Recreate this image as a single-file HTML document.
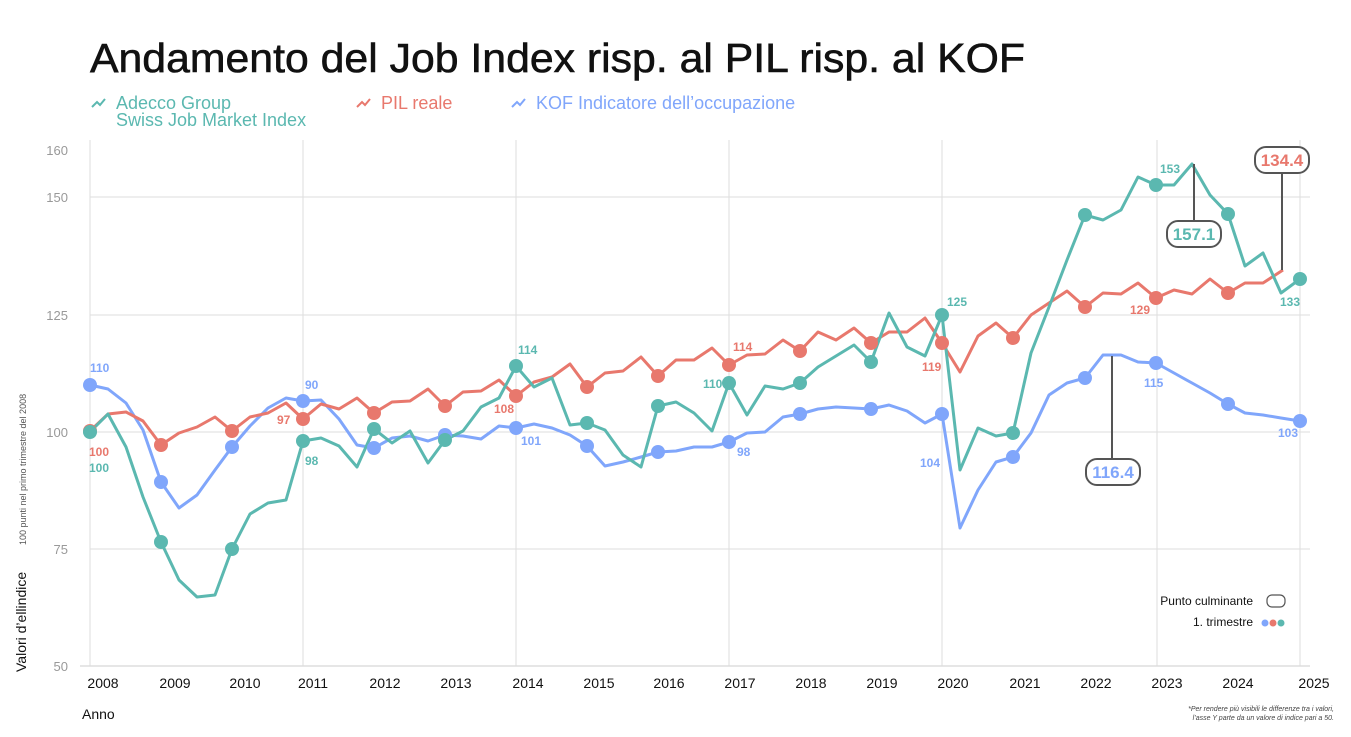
<!DOCTYPE html>
<html><head><meta charset="utf-8"><style>
body{margin:0;background:#fff;}
svg{display:block;font-family:"Liberation Sans",sans-serif;}
</style></head><body>
<svg width="1351" height="737" viewBox="0 0 1351 737">
<text x="90" y="72" font-size="41" fill="#111" stroke="#111" stroke-width="0.6" textLength="935" lengthAdjust="spacingAndGlyphs">Andamento del Job Index risp. al PIL risp. al KOF</text>
<g font-size="18">
<path d="M92 107l5-5 3 3 5-6" stroke="#5bb8b0" stroke-width="2" fill="none"/>
<text x="116" y="109" fill="#5bb8b0">Adecco Group</text>
<text x="116" y="126" fill="#5bb8b0">Swiss Job Market Index</text>
<path d="M357 107l5-5 3 3 5-6" stroke="#e8786d" stroke-width="2" fill="none"/>
<text x="381" y="109" fill="#e8786d">PIL reale</text>
<path d="M512 107l5-5 3 3 5-6" stroke="#80a6fb" stroke-width="2" fill="none"/>
<text x="536" y="109" fill="#80a6fb">KOF Indicatore dell’occupazione</text>
</g>
<g stroke="#ddd" stroke-width="1">
<line x1="90" y1="197" x2="1310" y2="197"/><line x1="90" y1="315" x2="1310" y2="315"/>
<line x1="90" y1="432" x2="1310" y2="432"/><line x1="90" y1="549" x2="1310" y2="549"/>
<line x1="80" y1="666" x2="1310" y2="666" stroke="#ccc"/>
<line x1="90" y1="140" x2="90" y2="666"/><line x1="303" y1="140" x2="303" y2="666"/>
<line x1="516" y1="140" x2="516" y2="666"/><line x1="729" y1="140" x2="729" y2="666"/>
<line x1="942" y1="140" x2="942" y2="666"/><line x1="1157" y1="140" x2="1157" y2="666"/>
<line x1="1300" y1="140" x2="1300" y2="666"/>
</g>
<g font-size="13" fill="#999" text-anchor="end">
<text x="68" y="155">160</text><text x="68" y="202">150</text><text x="68" y="320">125</text>
<text x="68" y="437">100</text><text x="68" y="554">75</text><text x="68" y="671">50</text>
</g>
<text transform="translate(26,672) rotate(-90)" font-size="14" fill="#111">Valori d’ellindice</text>
<text transform="translate(26,545) rotate(-90)" font-size="9" fill="#555">100 punti nel primo trimestre del 2008</text>
<g font-size="14" fill="#111" text-anchor="middle">
<text x="103" y="688">2008</text><text x="175" y="688">2009</text><text x="245" y="688">2010</text><text x="313" y="688">2011</text><text x="385" y="688">2012</text><text x="456" y="688">2013</text><text x="528" y="688">2014</text><text x="599" y="688">2015</text><text x="669" y="688">2016</text><text x="740" y="688">2017</text><text x="811" y="688">2018</text><text x="882" y="688">2019</text><text x="953" y="688">2020</text><text x="1025" y="688">2021</text><text x="1096" y="688">2022</text><text x="1167" y="688">2023</text><text x="1238" y="688">2024</text><text x="1314" y="688">2025</text>
</g>
<text x="82" y="719" font-size="14" fill="#111">Anno</text>
<text x="1334" y="711" font-size="7" fill="#444" text-anchor="end" font-style="italic">*Per rendere più visibili le differenze tra i valori,</text>
<text x="1334" y="720" font-size="7" fill="#444" text-anchor="end" font-style="italic">l’asse Y parte da un valore di indice pari a 50.</text>
<g fill="none" stroke-width="3" stroke-linejoin="round">
<polyline stroke="#80a6fb" points="90,385 108,389 126,403 143,430 161,482 179,508 197,495 215,470 232,447 250,426 268,408 286,398 303,401 321,400 339,419 357,445 374,448 392,438 410,436 428,441 445,435 463,436 481,439 499,426 516,428 534,424 552,428 570,435 587,446 605,466 623,462 641,457 658,452 676,451 694,447 712,447 729,442 747,433 765,432 783,417 800,414 818,409 836,407 854,408 871,409 889,405 907,411 925,423 942,414 960,528 978,490 996,462 1013,457 1031,433 1049,395 1067,383 1085,378 1103,355 1121,355 1138,362 1156,363 1174,373 1192,383 1210,393 1228,404 1245,413 1263,415 1281,418 1300,421"/>
<polyline stroke="#e8786d" points="90,431 108,414 126,412 143,421 161,445 179,433 197,427 215,417 232,431 250,417 268,413 286,403 303,419 321,404 339,409 357,398 374,413 392,402 410,401 428,389 445,406 463,392 481,391 499,380 516,396 534,382 552,377 570,364 587,387 605,373 623,371 641,357 658,376 676,360 694,360 712,348 729,365 747,355 765,354 783,340 800,351 818,332 836,340 854,328 871,343 889,332 907,332 925,318 942,343 960,372 978,336 996,323 1013,338 1031,315 1049,303 1067,291 1085,307 1103,293 1121,294 1138,283 1156,298 1174,290 1192,294 1210,279 1228,293 1245,283 1263,283 1283,270"/>
<polyline stroke="#5bb8b0" points="90,432 108,414 126,447 143,497 161,542 179,580 197,597 215,595 232,549 250,514 268,503 286,500 303,441 321,438 339,446 357,467 374,429 392,443 410,431 428,463 445,440 463,431 481,407 499,398 516,366 534,387 552,378 570,425 587,423 605,430 623,455 641,467 658,406 676,402 694,413 712,431 729,383 747,415 765,386 783,389 800,383 818,367 836,356 854,345 871,362 889,313 907,347 925,356 942,315 960,470 978,428 996,436 1013,433 1031,353 1049,307 1067,260 1085,215 1103,220 1121,210 1138,177 1156,185 1174,185 1192,164 1210,195 1228,214 1245,266 1263,253 1281,293 1300,279"/>
</g>
<g fill="#80a6fb">
<circle cx="90" cy="385" r="7"/><circle cx="161" cy="482" r="7"/><circle cx="232" cy="447" r="7"/><circle cx="303" cy="401" r="7"/><circle cx="374" cy="448" r="7"/><circle cx="445" cy="435" r="7"/><circle cx="516" cy="428" r="7"/><circle cx="587" cy="446" r="7"/><circle cx="658" cy="452" r="7"/><circle cx="729" cy="442" r="7"/><circle cx="800" cy="414" r="7"/><circle cx="871" cy="409" r="7"/><circle cx="942" cy="414" r="7"/><circle cx="1013" cy="457" r="7"/><circle cx="1085" cy="378" r="7"/><circle cx="1156" cy="363" r="7"/><circle cx="1228" cy="404" r="7"/><circle cx="1300" cy="421" r="7"/>
</g>
<g fill="#e8786d">
<circle cx="90" cy="431" r="7"/><circle cx="161" cy="445" r="7"/><circle cx="232" cy="431" r="7"/><circle cx="303" cy="419" r="7"/><circle cx="374" cy="413" r="7"/><circle cx="445" cy="406" r="7"/><circle cx="516" cy="396" r="7"/><circle cx="587" cy="387" r="7"/><circle cx="658" cy="376" r="7"/><circle cx="729" cy="365" r="7"/><circle cx="800" cy="351" r="7"/><circle cx="871" cy="343" r="7"/><circle cx="942" cy="343" r="7"/><circle cx="1013" cy="338" r="7"/><circle cx="1085" cy="307" r="7"/><circle cx="1156" cy="298" r="7"/><circle cx="1228" cy="293" r="7"/>
</g>
<g fill="#5bb8b0">
<circle cx="90" cy="432" r="7"/><circle cx="161" cy="542" r="7"/><circle cx="232" cy="549" r="7"/><circle cx="303" cy="441" r="7"/><circle cx="374" cy="429" r="7"/><circle cx="445" cy="440" r="7"/><circle cx="516" cy="366" r="7"/><circle cx="587" cy="423" r="7"/><circle cx="658" cy="406" r="7"/><circle cx="729" cy="383" r="7"/><circle cx="800" cy="383" r="7"/><circle cx="871" cy="362" r="7"/><circle cx="942" cy="315" r="7"/><circle cx="1013" cy="433" r="7"/><circle cx="1085" cy="215" r="7"/><circle cx="1156" cy="185" r="7"/><circle cx="1228" cy="214" r="7"/><circle cx="1300" cy="279" r="7"/>
</g>
<g font-size="12" font-weight="bold">
<g fill="#80a6fb"><text x="90" y="372">110</text><text x="305" y="389">90</text><text x="521" y="445">101</text><text x="737" y="456">98</text><text x="920" y="467">104</text><text x="1144" y="387">115</text><text x="1278" y="437">103</text></g>
<g fill="#e8786d"><text x="89" y="456">100</text><text x="277" y="424">97</text><text x="494" y="413">108</text><text x="733" y="351">114</text><text x="922" y="371">119</text><text x="1130" y="314">129</text></g>
<g fill="#5bb8b0"><text x="89" y="472">100</text><text x="305" y="465">98</text><text x="518" y="354">114</text><text x="703" y="388">110</text><text x="947" y="306">125</text><text x="1160" y="173">153</text><text x="1280" y="306">133</text></g>
</g>
<g stroke="#555" stroke-width="2" fill="#fff">
<line x1="1194" y1="164" x2="1194" y2="221"/><rect x="1167" y="221" width="54" height="26" rx="11"/>
<line x1="1282" y1="173" x2="1282" y2="270"/><rect x="1255" y="147" width="54" height="26" rx="11"/>
<line x1="1112" y1="356" x2="1112" y2="459"/><rect x="1086" y="459" width="54" height="26" rx="11"/>
</g>
<g font-size="17" font-weight="bold" text-anchor="middle">
<text x="1194" y="240" fill="#5bb8b0">157.1</text>
<text x="1282" y="166" fill="#e8786d">134.4</text>
<text x="1113" y="478" fill="#80a6fb">116.4</text>
</g>
<text x="1253" y="605" font-size="12" fill="#111" text-anchor="end">Punto culminante</text>
<rect x="1267" y="595" width="18" height="12" rx="5" fill="#fff" stroke="#555" stroke-width="1.2"/>
<text x="1253" y="626" font-size="12" fill="#111" text-anchor="end">1. trimestre</text>
<circle cx="1265" cy="623" r="3.5" fill="#80a6fb"/><circle cx="1273" cy="623" r="3.5" fill="#e8786d"/><circle cx="1281" cy="623" r="3.5" fill="#5bb8b0"/>
</svg>
</body></html>
